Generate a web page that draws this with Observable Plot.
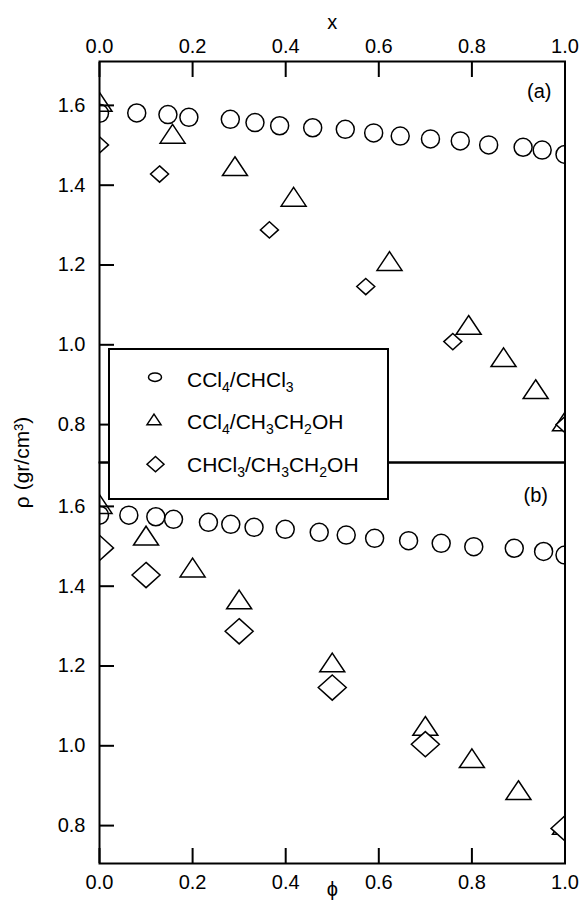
<!DOCTYPE html>
<html>
<head>
<meta charset="utf-8">
<script src="https://cdn.jsdelivr.net/npm/d3@7"></script>
<script src="https://cdn.jsdelivr.net/npm/@observablehq/plot@0.6"></script>
<style>
  html, body { margin: 0; padding: 0; background: #fff; }
  #wrap { position: relative; width: 584px; height: 902px; overflow: hidden; }
  #legend { position: absolute; left: 108px; top: 348px; }
</style>
</head>
<body>
<div id="wrap"><div id="chart"></div><svg id="legend" width="281" height="152"></svg></div>
<script>
// ---------- data ----------
const xTicks = [0, 0.2, 0.4, 0.6, 0.8, 1.0];
const yTicks = [0.8, 1.0, 1.2, 1.4, 1.6];
const panels = ["a", "b"];
const panelLabels = ["(a)", "(b)"];
const seriesNames = ["CCl_4/CHCl_3", "CCl_4/CH_3CH_2OH", "CHCl_3/CH_3CH_2OH"];

// panel (a): density vs mole fraction x
const aCircX   = [0, 0.080, 0.147, 0.192, 0.281, 0.334, 0.387, 0.458, 0.528, 0.589, 0.646, 0.711, 0.775, 0.836, 0.910, 0.951, 1.0];
const aCircRho = [1.575, 1.576, 1.572, 1.565, 1.560, 1.552, 1.544, 1.539, 1.535, 1.526, 1.518, 1.511, 1.506, 1.496, 1.490, 1.483, 1.472];
const aTriX    = [0, 0.157, 0.291, 0.417, 0.623, 0.793, 0.868, 0.937, 1.0];
const aTriRho  = [1.596, 1.516, 1.435, 1.358, 1.197, 1.037, 0.956, 0.876, 0.795];
const aDiaX    = [0, 0.129, 0.365, 0.572, 0.759, 1.0];
const aDiaRho  = [1.496, 1.423, 1.283, 1.141, 1.003, 0.795];

// panel (b): density vs volume fraction phi
const bCircX   = [0, 0.063, 0.121, 0.159, 0.234, 0.282, 0.332, 0.399, 0.472, 0.530, 0.591, 0.664, 0.734, 0.804, 0.891, 0.954, 1.0];
const bCircRho = [1.573, 1.573, 1.569, 1.5625, 1.555, 1.550, 1.5425, 1.5375, 1.530, 1.523, 1.515, 1.509, 1.5025, 1.494, 1.490, 1.482, 1.473];
const bTriX    = [0, 0.1, 0.2, 0.3, 0.5, 0.7, 0.8, 0.9, 1.0];
const bTriRho  = [1.593, 1.514, 1.434, 1.354, 1.196, 1.037, 0.956, 0.876, 0.789];
const bDiaX    = [0, 0.1, 0.3, 0.5, 0.7, 1.0];
const bDiaRho  = [1.491, 1.423, 1.282, 1.141, 0.999, 0.788];

// ---------- table ----------
function rows(panel, series, xs, ys) { return xs.map((x, i) => ({panel, series, x, rho: ys[i]})); }
const circles  = [...rows("a", 0, aCircX, aCircRho), ...rows("b", 0, bCircX, bCircRho)];
const triangles = [...rows("a", 1, aTriX, aTriRho), ...rows("b", 1, bTriX, bTriRho)];
const diamondsA = rows("a", 2, aDiaX, aDiaRho);
const diamondsB = rows("b", 2, bDiaX, bDiaRho);

// custom symbols
const triSym = {draw(ctx, size) { const s = Math.sqrt(size / Math.PI);
  ctx.moveTo(0, -s); ctx.lineTo(s, 0.5 * s); ctx.lineTo(-s, 0.5 * s); ctx.closePath(); }};
const diaSym = {draw(ctx, size) { const s = Math.sqrt(size / Math.PI);
  ctx.moveTo(0, -0.9 * s); ctx.lineTo(s, 0); ctx.lineTo(0, 0.9 * s); ctx.lineTo(-s, 0); ctx.closePath(); }};

const fmt = d3.format(".1f");
const font = "'Liberation Sans', Arial, Helvetica, sans-serif";

const chart = Plot.plot({
  width: 584,
  height: 902,
  marginTop: 61,
  marginBottom: 38.5,
  marginLeft: 99,
  marginRight: 19.5,
  style: {fontFamily: font, fontSize: "20px", background: "white", color: "black", overflow: "visible"},
  x: {domain: [0, 1]},
  y: {domain: [0.7, 1.705]},
  fy: {domain: panels, padding: 0},
  marks: [
    Plot.dot(circles, {x: "x", y: "rho", fy: "panel", r: 9, stroke: "black", fill: "none", strokeWidth: 1.5, clip: true}),
    Plot.dot(triangles, {x: "x", y: "rho", fy: "panel", symbol: triSym, r: 12.5, stroke: "black", fill: "none", strokeWidth: 1.5, clip: true}),
    Plot.dot(diamondsA, {x: "x", y: "rho", fy: "panel", symbol: diaSym, r: 9, stroke: "black", fill: "white", strokeWidth: 1.5, clip: true}),
    Plot.dot(diamondsB, {x: "x", y: "rho", fy: "panel", symbol: diaSym, r: 14, stroke: "black", fill: "white", strokeWidth: 1.5, clip: true}),
    Plot.text([{panel: panels[0], label: panelLabels[0]}], {fy: "panel", text: "label", frameAnchor: "top-right", dx: -13.5, dy: 22}),
    Plot.text([{panel: panels[1], label: panelLabels[1]}], {fy: "panel", text: "label", frameAnchor: "top-right", dx: -17, dy: 25}),
    Plot.axisX({anchor: "top", ticks: xTicks, tickFormat: fmt, tickSize: -15, tickPadding: 24, strokeWidth: 2,
      label: "x", labelAnchor: "center", labelArrow: "none", labelOffset: 47}),
    Plot.axisX({anchor: "bottom", ticks: xTicks, tickFormat: fmt, tickSize: -15, tickPadding: 26.5, strokeWidth: 2,
      label: "ϕ", labelAnchor: "center", labelArrow: "none", labelOffset: 32}),
    Plot.axisY({anchor: "left", ticks: yTicks, tickFormat: fmt, tickSize: -15, tickPadding: 29, strokeWidth: 2, label: null, dy: 2}),
    Plot.axisFy({anchor: "left", ticks: [], label: "ρ (gr/cm³)", labelAnchor: "center", labelArrow: "none", labelOffset: 85, fontSize: 21}),
    Plot.frame({strokeWidth: 2})
  ]
});
document.getElementById("chart").appendChild(chart);

// ---------- legend (overlay inside the plot) ----------
const lg = d3.select("#legend");
lg.append("rect").attr("x", 1).attr("y", 1).attr("width", 279).attr("height", 150)
  .attr("fill", "white").attr("stroke", "black").attr("stroke-width", 2);
const rowY = [0, 1, 2];
const symX = 47, textX = 79, baseY0 = 38.7, rowGap = 42.5;
rowY.forEach((i) => {
  const cy = baseY0 + i * rowGap - 9.5;
  if (i === 0) {
    lg.append("ellipse").attr("cx", symX).attr("cy", cy).attr("rx", 6.5).attr("ry", 4.2)
      .attr("fill", "none").attr("stroke", "black").attr("stroke-width", 1.5);
  } else {
    const p = d3.path();
    const s = i === 1 ? 7 : 8.5;
    (i === 1 ? triSym : diaSym).draw(p, s * s * Math.PI);
    lg.append("path").attr("transform", `translate(${i === 1 ? symX - 1 : symX + 0.5},${i === 1 ? cy + 1.5 : cy + 2})`)
      .attr("d", p.toString()).attr("fill", "none").attr("stroke", "black").attr("stroke-width", 1.5);
  }
  const t = lg.append("text").attr("x", textX).attr("y", baseY0 + i * rowGap)
    .attr("font-family", font).attr("font-size", 21).attr("fill", "black");
  const parts = seriesNames[i].split(/(_\d)/).filter(d => d.length);
  let shifted = false;
  parts.forEach((part) => {
    if (part.startsWith("_")) {
      t.append("tspan").attr("font-size", 14).attr("dy", 5).text(part.slice(1));
      shifted = true;
    } else {
      const ts = t.append("tspan").text(part);
      if (shifted) { ts.attr("dy", -5); shifted = false; }
    }
  });
});
</script>
</body>
</html>
